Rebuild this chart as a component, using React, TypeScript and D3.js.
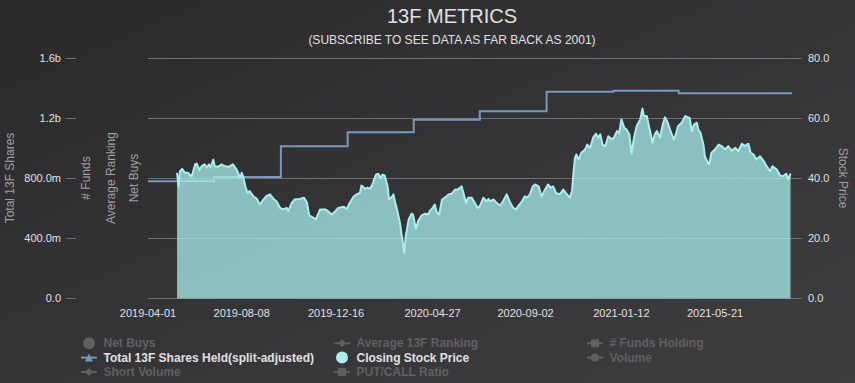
import React from 'react';
import * as d3 from 'd3';

const FONT = '"Liberation Sans", Arial, Helvetica, sans-serif';
const parse = d3.utcParse('%Y-%m-%d');

const chartTitle = '13F METRICS';
const chartSubtitle = '(SUBSCRIBE TO SEE DATA AS FAR BACK AS 2001)';

const xDomain = ['2019-04-01', '2021-09-04'];
const xTickLabels = ['2019-04-01', '2019-08-08', '2019-12-16', '2020-04-27', '2020-09-02', '2021-01-12', '2021-05-21'];

const leftTicks = [0, 4e8, 8e8, 1.2e9, 1.6e9];
const leftTickLabels = ['0.0', '400.0m', '800.0m', '1.2b', '1.6b'];
const rightTicks = [0, 20, 40, 60, 80];
const rightTickLabels = ['0.0', '20.0', '40.0', '60.0', '80.0'];

const leftAxisTitles = ['Total 13F Shares', '# Funds', 'Average Ranking', 'Net Buys'];
const rightAxisTitle = 'Stock Price';

const sharesDates = ['2019-04-01', '2019-07-01', '2019-10-01', '2020-01-01', '2020-04-01', '2020-07-01', '2020-10-01', '2021-01-01', '2021-04-01', '2021-09-04'];
const sharesValues = [782e6, 810e6, 1015e6, 1109e6, 1191e6, 1249e6, 1378e6, 1385e6, 1369e6, 1369e6];

const priceDates = [
  '2019-05-11', '2019-05-13', '2019-05-15', '2019-05-18', '2019-05-22', '2019-05-26', '2019-05-31', '2019-06-05', '2019-06-07', '2019-06-11',
  '2019-06-14', '2019-06-18', '2019-06-21', '2019-06-24', '2019-06-26', '2019-06-30', '2019-07-02', '2019-07-07', '2019-07-11', '2019-07-16',
  '2019-07-21', '2019-07-27', '2019-08-01', '2019-08-06', '2019-08-08', '2019-08-10', '2019-08-13', '2019-08-16', '2019-08-19', '2019-08-24',
  '2019-08-29', '2019-09-02', '2019-09-07', '2019-09-11', '2019-09-16', '2019-09-21', '2019-09-25', '2019-09-30', '2019-10-04', '2019-10-09',
  '2019-10-11', '2019-10-16', '2019-10-20', '2019-10-27',
  '2019-11-02', '2019-11-06', '2019-11-09', '2019-11-15', '2019-11-18', '2019-11-24', '2019-12-01', '2019-12-05', '2019-12-10', '2019-12-15',
  '2019-12-19', '2019-12-26', '2019-12-31', '2020-01-04', '2020-01-09', '2020-01-13', '2020-01-18', '2020-01-20', '2020-01-25', '2020-01-29',
  '2020-02-01', '2020-02-05', '2020-02-09', '2020-02-12', '2020-02-15', '2020-02-18', '2020-02-21', '2020-02-25', '2020-02-27', '2020-03-02',
  '2020-03-04', '2020-03-06', '2020-03-09', '2020-03-13', '2020-03-15', '2020-03-19', '2020-03-21', '2020-03-25', '2020-03-29', '2020-03-31',
  '2020-04-04', '2020-04-07', '2020-04-12', '2020-04-17', '2020-04-21', '2020-04-23',
  '2020-04-27', '2020-04-30', '2020-05-03', '2020-05-06', '2020-05-10', '2020-05-14', '2020-05-19', '2020-05-23', '2020-05-28', '2020-06-01',
  '2020-06-06', '2020-06-09', '2020-06-12', '2020-06-15', '2020-06-20', '2020-06-24', '2020-06-28', '2020-07-01', '2020-07-06', '2020-07-10',
  '2020-07-13', '2020-07-15', '2020-07-20', '2020-07-24', '2020-07-29', '2020-08-02', '2020-08-07', '2020-08-12', '2020-08-16', '2020-08-20',
  '2020-08-23', '2020-08-28', '2020-09-01', '2020-09-04', '2020-09-08', '2020-09-12', '2020-09-15', '2020-09-20', '2020-09-24', '2020-09-29',
  '2020-10-03', '2020-10-07', '2020-10-10', '2020-10-14', '2020-10-19',
  '2020-10-24', '2020-10-29', '2020-11-02', '2020-11-05', '2020-11-07', '2020-11-09', '2020-11-11', '2020-11-14', '2020-11-18', '2020-11-23',
  '2020-11-26', '2020-11-30', '2020-12-04', '2020-12-08', '2020-12-11', '2020-12-14', '2020-12-17', '2020-12-21', '2020-12-25', '2020-12-30',
  '2021-01-02', '2021-01-06', '2021-01-09', '2021-01-12', '2021-01-16', '2021-01-19', '2021-01-23', '2021-01-26', '2021-01-29', '2021-02-02',
  '2021-02-07', '2021-02-10', '2021-02-12', '2021-02-16', '2021-02-19', '2021-02-24', '2021-02-27', '2021-03-02', '2021-03-06', '2021-03-10',
  '2021-03-13', '2021-03-16', '2021-03-20', '2021-03-25', '2021-03-28', '2021-03-31', '2021-04-05', '2021-04-10', '2021-04-14',
  '2021-04-16', '2021-04-19', '2021-04-22', '2021-04-26', '2021-04-28', '2021-05-01', '2021-05-05', '2021-05-07', '2021-05-10', '2021-05-13',
  '2021-05-16', '2021-05-21', '2021-05-26', '2021-05-30', '2021-06-04', '2021-06-08', '2021-06-13', '2021-06-18', '2021-06-22', '2021-06-27',
  '2021-07-01', '2021-07-06', '2021-07-09', '2021-07-13', '2021-07-17', '2021-07-22', '2021-07-27', '2021-07-31', '2021-08-05', '2021-08-08',
  '2021-08-14', '2021-08-19', '2021-08-23', '2021-08-27', '2021-08-30', '2021-09-02',
];
const priceValues = [
  41.9, 37.4, 42.4, 43.2, 41.9, 41.9, 40.6, 44.7, 45.0, 42.8,
  44.1, 44.7, 43.6, 44.7, 43.6, 46.3, 44.1, 43.9, 44.7, 44.1,
  43.9, 44.7, 43.0, 40.2, 41.9, 40.8, 37.4, 35.2, 35.8, 34.1,
  33.2, 31.3, 33.0, 34.1, 34.7, 33.2, 32.4, 30.2, 29.7, 30.2,
  29.1, 31.9, 33.0, 33.2,
  33.6, 31.9, 27.7, 26.9, 26.3, 29.7, 29.7, 29.1, 28.0, 29.1,
  30.2, 30.6, 29.9, 31.9, 33.9, 34.7, 35.2, 37.7, 36.6, 36.9,
  36.6, 38.6, 41.3, 41.6, 40.2, 41.3, 41.0, 37.4, 33.0, 33.9,
  34.7, 32.4, 29.7, 25.2, 21.9, 15.2, 20.8, 26.3, 28.3, 28.0,
  23.2, 25.8, 27.7, 28.3, 28.0, 29.1,
  30.2, 31.3, 28.6, 28.0, 33.0, 33.6, 34.7, 34.9, 36.3, 36.3,
  37.4, 34.7, 31.9, 33.6, 33.6, 31.9, 30.2, 30.8, 33.6, 32.4,
  33.2, 32.4, 33.0, 31.9, 31.0, 32.4, 34.7, 31.9, 30.2, 29.7,
  30.8, 32.4, 34.1, 33.6, 34.7, 37.4, 38.0, 37.4, 34.1, 36.3,
  38.0, 36.9, 37.4, 35.2, 34.7,
  36.3, 34.7, 33.6, 35.8, 41.9, 46.9, 48.0, 46.3, 48.6, 49.7,
  51.3, 50.2, 53.6, 54.9, 53.6, 54.7, 51.3, 50.8, 54.1, 53.0,
  53.8, 55.8, 55.2, 59.7, 56.9, 56.3, 54.7, 48.2, 53.0, 57.4,
  59.7, 63.3, 60.8, 60.8, 57.4, 51.9, 54.7, 55.8, 53.6, 58.0,
  60.4, 59.1, 56.3, 53.0, 54.7, 57.4, 58.6, 60.8, 60.4,
  60.2, 55.8, 58.0, 58.6, 56.3, 55.2, 51.3, 47.4, 45.8, 44.7,
  48.6, 49.7, 51.3, 50.8, 49.7, 50.8, 49.3, 50.2, 49.1, 51.6,
  50.8, 51.6, 48.6, 48.0, 46.3, 47.4, 45.8, 44.1, 42.4, 44.1,
  43.0, 40.8, 40.8, 41.6, 39.7, 41.6,
];

const legendNames = ['Net Buys', 'Average 13F Ranking', '# Funds Holding', 'Total 13F Shares Held(split-adjusted)', 'Closing Stock Price', 'Volume', 'Short Volume', 'PUT/CALL Ratio'];
const legendVisible = [false, false, false, true, true, false, false, false];
const legendSymbols = ['dot', 'diamond', 'square', 'triangle', 'dot', 'circle', 'diamond', 'square'];
const legendColors = ['#2b908f', '#90ee7e', '#f45b5b', '#7798BF', '#aaeeee', '#ff0066', '#eeaaee', '#55BF3B'];

const PLOT_L = 148;
const PLOT_R = 792;
const PLOT_T = 58.5;
const PLOT_B = 298.5;
const LABEL_COLOR = '#E0E0E3';
const TITLE_COLOR = '#A0A0A3';
const GRID = '#707073';
const HIDDEN = '#606063';

type Pt = { date: Date; v: number };

function LegendSymbol({ kind, cx, cy, color }: { kind: string; cx: number; cy: number; color: string }) {
  if (kind === 'dot') return <circle cx={cx} cy={cy} r={6} fill={color} />;
  const r = 4;
  let marker: React.ReactNode = null;
  if (kind === 'triangle') marker = <path d={`M${cx - r},${cy + r}L${cx},${cy - r}L${cx + r},${cy + r}Z`} fill={color} />;
  else if (kind === 'diamond') marker = <path d={`M${cx},${cy - r}L${cx + r},${cy}L${cx},${cy + r}L${cx - r},${cy}Z`} fill={color} />;
  else if (kind === 'square') marker = <rect x={cx - r} y={cy - r} width={2 * r} height={2 * r} fill={color} />;
  else marker = <circle cx={cx} cy={cy} r={r} fill={color} />;
  return (
    <g>
      <line x1={cx - 8} x2={cx + 8} y1={cy} y2={cy} stroke={color} strokeWidth={2} />
      {marker}
    </g>
  );
}

export default function App() {
  const x = d3.scaleUtc().domain(xDomain.map((d) => parse(d) as Date)).range([PLOT_L, PLOT_R]);
  const yL = d3.scaleLinear().domain([0, 1.6e9]).range([PLOT_B, PLOT_T]);
  const yR = d3.scaleLinear().domain([0, 80]).range([PLOT_B, PLOT_T]);

  const price: Pt[] = priceDates.map((d, i) => ({ date: parse(d) as Date, v: priceValues[i] }));
  const shares: Pt[] = sharesDates.map((d, i) => ({ date: parse(d) as Date, v: sharesValues[i] }));

  const areaGen = d3.area<Pt>().x((d) => x(d.date)).y0(yR(0)).y1((d) => yR(d.v));
  const lineGen = d3.line<Pt>().x((d) => x(d.date)).y((d) => yR(d.v));
  const stepGen = d3.line<Pt>().x((d) => x(d.date)).y((d) => yL(d.v)).curve(d3.curveStepAfter);

  const colX = [89, 342, 595];
  const rowY = [343.3, 357.6, 371.9];

  return (
    <svg width={855} height={383} style={{ position: 'absolute', left: 0, top: 0, fontFamily: FONT }}>
      <defs>
        <linearGradient id="bg" x1="0" y1="0" x2="1" y2="1">
          <stop offset="0" stopColor="#2a2a2b" />
          <stop offset="1" stopColor="#3e3e40" />
        </linearGradient>
      </defs>
      <rect x={0} y={0} width={855} height={383} fill="url(#bg)" />

      <text x={452} y={23} textAnchor="middle" fill={LABEL_COLOR} fontSize={20}>{chartTitle}</text>
      <text x={452} y={44} textAnchor="middle" fill={LABEL_COLOR} fontSize={12}>{chartSubtitle}</text>

      {/* grid lines and ticks */}
      {leftTicks.map((t, i) => {
        const y = Math.round(yL(t) - 0.5) + 0.5;
        return (
          <g key={'g' + i}>
            <line x1={PLOT_L} x2={PLOT_R + 10} y1={y} y2={y} stroke={GRID} strokeWidth={1} />
            <line x1={66} x2={76} y1={y} y2={y} stroke={GRID} strokeWidth={1} />
            <text x={61} y={y} dy="0.35em" textAnchor="end" fill={LABEL_COLOR} fontSize={11}>{leftTickLabels[i]}</text>
          </g>
        );
      })}
      {rightTicks.map((t, i) => (
        <text key={'r' + i} x={808} y={yR(t)} dy="0.35em" textAnchor="start" fill={LABEL_COLOR} fontSize={11}>{rightTickLabels[i]}</text>
      ))}

      {/* axis titles */}
      {leftAxisTitles.map((t, i) => {
        const cx = [10, 86, 111, 133.5][i];
        return (
          <text key={'at' + i} transform={`translate(${cx},178) rotate(-90)`} dy="0.35em" textAnchor="middle" fill={TITLE_COLOR} fontSize={12}>{t}</text>
        );
      })}
      <text transform="translate(843,178) rotate(90)" dy="0.35em" textAnchor="middle" fill={TITLE_COLOR} fontSize={12}>{rightAxisTitle}</text>

      {/* x labels */}
      {xTickLabels.map((d, i) => (
        <text key={'x' + i} x={x(parse(d) as Date)} y={317} textAnchor="middle" fill={LABEL_COLOR} fontSize={11}>{d}</text>
      ))}

      {/* series */}
      <path d={stepGen(shares) || ''} fill="none" stroke="#7798BF" strokeWidth={2} />
      <path d={areaGen(price) || ''} fill="#aaeeee" fillOpacity={0.75} />
      <path d={lineGen(price) || ''} fill="none" stroke="#aaeeee" strokeWidth={2} strokeLinejoin="round" />

      {/* legend */}
      {legendNames.map((name, i) => {
        const col = i % 3;
        const row = Math.floor(i / 3);
        const cx = colX[col];
        const cy = rowY[row];
        const color = legendVisible[i] ? legendColors[i] : HIDDEN;
        return (
          <g key={'l' + i}>
            <LegendSymbol kind={legendSymbols[i]} cx={cx} cy={cy} color={color} />
            <text x={cx + 14.5} y={cy + 4} fill={legendVisible[i] ? LABEL_COLOR : HIDDEN} fontSize={12} fontWeight="bold">{name}</text>
          </g>
        );
      })}
    </svg>
  );
}
